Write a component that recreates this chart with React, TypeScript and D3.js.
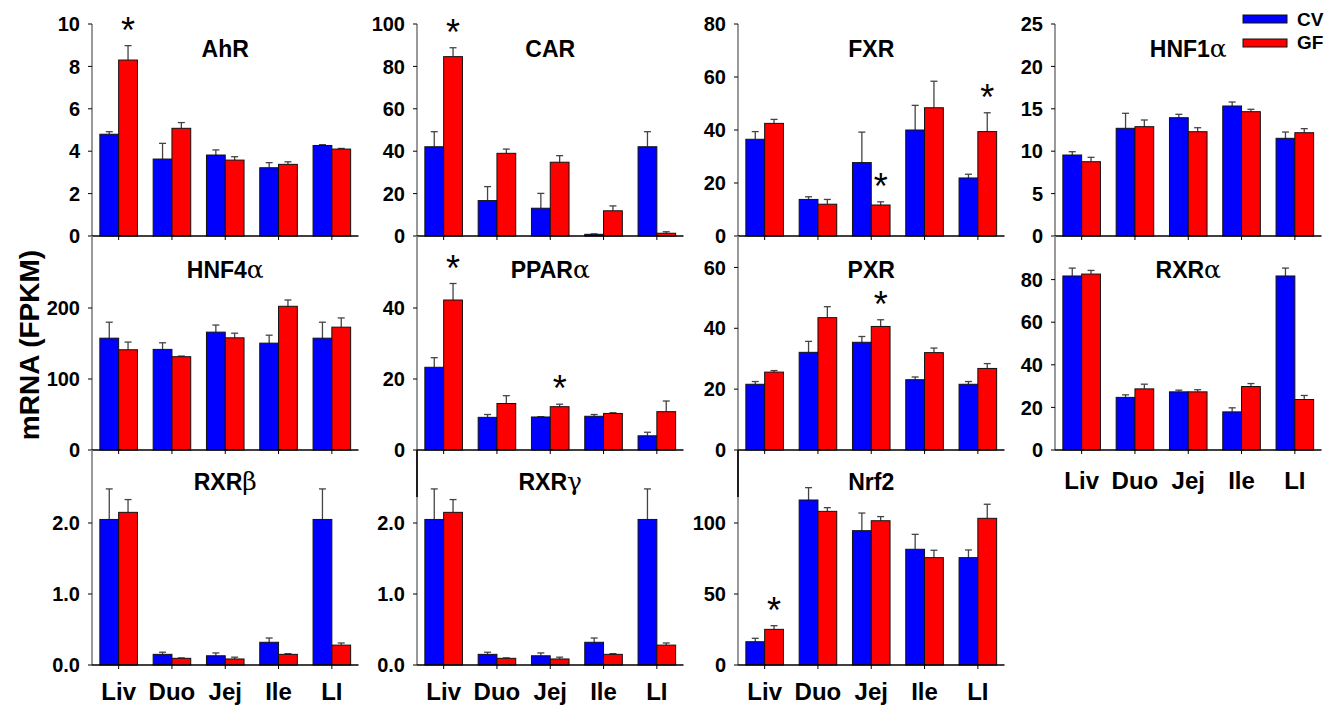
import React from "react";
import * as d3 from "d3";

const tissues = ["Liv", "Duo", "Jej", "Ile", "LI"];
const groups = ["CV", "GF"];

// mean and SEM, per gene
const ahrCV = [4.8, 3.63, 3.82, 3.22, 4.27];
const ahrCVse = [0.12, 0.74, 0.24, 0.24, 0.04];
const ahrGF = [8.3, 5.08, 3.58, 3.38, 4.1];
const ahrGFse = [0.68, 0.27, 0.16, 0.12, 0.03];

const carCV = [42.1, 16.7, 13.1, 0.8, 42.1];
const carCVse = [7.1, 6.6, 7.0, 0.2, 7.1];
const carGF = [84.6, 39, 34.8, 11.9, 1.3];
const carGFse = [4.2, 2.0, 3.1, 2.3, 0.7];

const fxrCV = [36.5, 13.8, 27.7, 40, 21.9];
const fxrCVse = [2.9, 1.0, 11.5, 9.3, 1.4];
const fxrGF = [42.5, 12, 11.7, 48.4, 39.4];
const fxrGFse = [1.5, 1.8, 1.2, 10, 7.1];

const hnf1CV = [9.55, 12.7, 13.95, 15.33, 11.52];
const hnf1CVse = [0.39, 1.77, 0.4, 0.47, 0.74];
const hnf1GF = [8.76, 12.89, 12.3, 14.66, 12.18];
const hnf1GFse = [0.52, 0.79, 0.47, 0.28, 0.48];

const hnf4CV = [157.5, 141.7, 166, 150.5, 157.5];
const hnf4CVse = [22.5, 9.3, 10, 11.2, 22.5];
const hnf4GF = [141.2, 131.4, 158, 202.4, 173];
const hnf4GFse = [10.8, 0.9, 6.5, 8.9, 13];

const pparCV = [23.3, 9.2, 9.3, 9.5, 4.0];
const pparCVse = [2.7, 0.8, 0.1, 0.5, 1.0];
const pparGF = [42.25, 13.1, 12.2, 10.3, 10.8];
const pparGFse = [4.65, 2.2, 0.7, 0.2, 3.0];

const pxrCV = [21.6, 32.1, 35.4, 23.1, 21.6];
const pxrCVse = [0.9, 3.6, 1.9, 0.9, 0.9];
const pxrGF = [25.6, 43.5, 40.6, 32, 26.8];
const pxrGFse = [0.5, 3.6, 2.2, 1.5, 1.6];

const rxraCV = [81.7, 24.7, 27.3, 17.9, 81.7];
const rxraCVse = [3.7, 1.2, 0.8, 1.9, 3.7];
const rxraGF = [82.6, 28.7, 27.3, 29.8, 23.7];
const rxraGFse = [1.7, 2.2, 1.0, 1.4, 1.9];

const rxrbCV = [2.05, 0.15, 0.13, 0.32, 2.05];
const rxrbCVse = [0.43, 0.03, 0.04, 0.06, 0.43];
const rxrbGF = [2.15, 0.094, 0.085, 0.15, 0.28];
const rxrbGFse = [0.18, 0.006, 0.025, 0.01, 0.03];

const rxrgCV = [2.05, 0.15, 0.13, 0.32, 2.05];
const rxrgCVse = [0.43, 0.03, 0.04, 0.06, 0.43];
const rxrgGF = [2.15, 0.094, 0.085, 0.15, 0.28];
const rxrgGFse = [0.18, 0.006, 0.025, 0.01, 0.03];

const nrf2CV = [16.4, 116.2, 94.6, 81.5, 75.6];
const nrf2CVse = [2.4, 8.7, 12.4, 10.5, 5.4];
const nrf2GF = [25.1, 108.2, 101.6, 75.6, 103.3];
const nrf2GFse = [2.6, 2.6, 2.9, 5.2, 9.9];

const panels = [
  { name: "AhR", greek: "", col: 0, row: 0, max: 10, step: 2, fmt: "d", cv: ahrCV, cvSe: ahrCVse, gf: ahrGF, gfSe: ahrGFse, stars: ["Liv"] },
  { name: "CAR", greek: "", col: 1, row: 0, max: 100, step: 20, fmt: "d", cv: carCV, cvSe: carCVse, gf: carGF, gfSe: carGFse, stars: ["Liv"] },
  { name: "FXR", greek: "", col: 2, row: 0, max: 80, step: 20, fmt: "d", cv: fxrCV, cvSe: fxrCVse, gf: fxrGF, gfSe: fxrGFse, stars: ["Jej", "LI"] },
  { name: "HNF1", greek: "α", col: 3, row: 0, max: 25, step: 5, fmt: "d", cv: hnf1CV, cvSe: hnf1CVse, gf: hnf1GF, gfSe: hnf1GFse, stars: [] },
  { name: "HNF4", greek: "α", col: 0, row: 1, max: 300, step: 100, fmt: "d", cv: hnf4CV, cvSe: hnf4CVse, gf: hnf4GF, gfSe: hnf4GFse, stars: [] },
  { name: "PPAR", greek: "α", col: 1, row: 1, max: 60, step: 20, fmt: "d", cv: pparCV, cvSe: pparCVse, gf: pparGF, gfSe: pparGFse, stars: ["Liv", "Jej"] },
  { name: "PXR", greek: "", col: 2, row: 1, max: 70, step: 20, fmt: "d", cv: pxrCV, cvSe: pxrCVse, gf: pxrGF, gfSe: pxrGFse, stars: ["Jej"] },
  { name: "RXR", greek: "α", col: 3, row: 1, max: 100, step: 20, fmt: "d", cv: rxraCV, cvSe: rxraCVse, gf: rxraGF, gfSe: rxraGFse, stars: [], xLabels: true },
  { name: "RXR", greek: "β", col: 0, row: 2, max: 3, step: 1, fmt: ".1f", cv: rxrbCV, cvSe: rxrbCVse, gf: rxrbGF, gfSe: rxrbGFse, stars: [], xLabels: true },
  { name: "RXR", greek: "γ", col: 1, row: 2, max: 3, step: 1, fmt: ".1f", cv: rxrgCV, cvSe: rxrgCVse, gf: rxrgGF, gfSe: rxrgGFse, stars: [], xLabels: true, darkTop: true },
  { name: "Nrf2", greek: "", col: 2, row: 2, max: 150, step: 50, fmt: "d", cv: nrf2CV, cvSe: nrf2CVse, gf: nrf2GF, gfSe: nrf2GFse, stars: ["Liv"], xLabels: true, darkTop: true },
];

const colX = [92, 417, 738, 1055];
const panelW = 266.5;
// [scale top, zero line, axis line top]
const rowY = [
  [24, 236, 24],
  [237, 450, 236],
  [452, 665, 450],
];
const titleY = [57, 278, 490];
const labelY = [0, 489, 700];
const colors: Record<string, string> = { CV: "#0000ff", GF: "#ff0000" };
const font = "Arial, 'Liberation Sans', Helvetica, sans-serif";

function Panel({ p }: { p: any }) {
  const x0 = colX[p.col];
  const [top, zero, axTop] = rowY[p.row];
  const x = d3.scaleBand().domain(tissues).range([x0, x0 + panelW]).paddingInner(0.295).paddingOuter(0.1475);
  const xs = d3.scaleBand().domain(groups).range([0, x.bandwidth()]);
  const y = d3.scaleLinear().domain([0, p.max]).range([zero, top]);
  let ticks = d3.range(0, p.max + 1e-9, p.step);
  if (p.row > 0) ticks = ticks.filter((t) => t < p.max - 1e-9);
  const f = d3.format(p.fmt);
  const bars: any[] = [];
  tissues.forEach((t, i) => {
    bars.push({ t, g: "CV", v: p.cv[i], se: p.cvSe[i] });
    bars.push({ t, g: "GF", v: p.gf[i], se: p.gfSe[i] });
  });
  const bw = xs.bandwidth();
  return (
    <g>
      {/* y axis */}
      <line x1={x0} x2={x0} y1={axTop} y2={zero} stroke="#808080" strokeWidth={1.6} />
      {p.darkTop && <line x1={x0} x2={x0} y1={axTop} y2={axTop + 47} stroke="#000" strokeWidth={1.6} />}
      {ticks.map((t) => (
        <g key={t}>
          <line x1={x0 - 4} x2={x0} y1={y(t)} y2={y(t)} stroke="#000" strokeWidth={1} />
          <text x={x0 - 12} y={y(t)} dy="0.36em" textAnchor="end" fontSize={20} fontWeight="bold" fontFamily={font}>
            {f(t)}
          </text>
        </g>
      ))}
      {/* bars */}
      {bars.map((b, i) => {
        const bx = (x(b.t) as number) + (xs(b.g) as number);
        const cx = bx + bw / 2;
        return (
          <g key={i}>
            <line x1={cx} x2={cx} y1={y(b.v)} y2={y(b.v + b.se)} stroke="#444" strokeWidth={1.3} />
            <line x1={cx - 3.5} x2={cx + 3.5} y1={y(b.v + b.se)} y2={y(b.v + b.se)} stroke="#444" strokeWidth={1.3} />
            <rect x={bx} y={y(b.v)} width={bw} height={zero - y(b.v)} fill={colors[b.g]} stroke="#111" strokeWidth={1} />
          </g>
        );
      })}
      {/* x axis */}
      <line x1={x0} x2={x0 + panelW} y1={zero} y2={zero} stroke="#000" strokeWidth={1.6} />
      {tissues.map((t) => {
        const cx = (x(t) as number) + x.bandwidth() / 2;
        return <line key={t} x1={cx} x2={cx} y1={zero} y2={zero + 4} stroke="#000" strokeWidth={1} />;
      })}
      {p.xLabels &&
        tissues.map((t) => (
          <text key={t} x={(x(t) as number) + x.bandwidth() / 2} y={labelY[p.row]} textAnchor="middle" fontSize={24} fontWeight="bold" fontFamily={font}>
            {t}
          </text>
        ))}
      {/* significance */}
      {p.stars.map((t: string) => {
        const i = tissues.indexOf(t);
        const cx = (x(t) as number) + (xs("GF") as number) + bw / 2;
        return (
          <text key={t} x={cx} y={y(p.gf[i] + p.gfSe[i]) - 3} textAnchor="middle" fontSize={36} fontFamily={font}>
            *
          </text>
        );
      })}
      <text x={x0 + panelW / 2} y={titleY[p.row]} textAnchor="middle" fontSize={23} fontWeight="bold" fontFamily={font}>
        {p.name}
        {p.greek && <tspan fontWeight="normal" fontSize={25} fontFamily="'DejaVu Serif', serif">{p.greek}</tspan>}
      </text>
    </g>
  );
}

export default function App() {
  return (
    <svg width={1327} height={707} style={{ position: "absolute", left: 0, top: 0, background: "#fff" }}>
      {panels.map((p, i) => (
        <Panel key={i} p={p} />
      ))}
      <text
        transform="translate(29,345) rotate(-90)"
        textAnchor="middle"
        dy="0.36em"
        fontSize={28}
        fontWeight="bold"
        fontFamily={font}
      >
        mRNA (FPKM)
      </text>
      {/* legend */}
      {groups.map((g, i) => (
        <g key={g}>
          <rect x={1243} y={15 + i * 24} width={44} height={8} fill={colors[g]} stroke="#111" strokeWidth={1} />
          <text x={1297} y={26 + i * 22.5} fontSize={19} fontWeight="bold" fontFamily={font}>
            {g}
          </text>
        </g>
      ))}
    </svg>
  );
}
